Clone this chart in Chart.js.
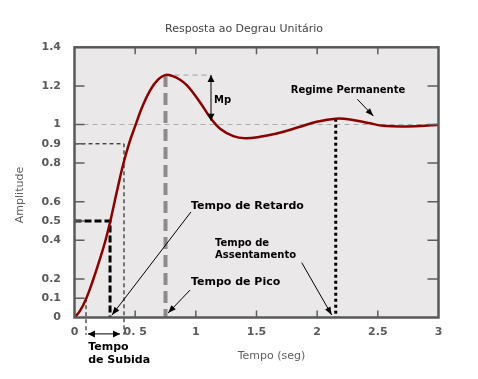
<!DOCTYPE html>
<html><head><meta charset="utf-8">
<script src="https://cdn.jsdelivr.net/npm/chart.js@4.4.0/dist/chart.umd.min.js"></script>
<style>html,body{margin:0;padding:0;background:#fff;}canvas{display:block;}</style>
</head><body>
<canvas id="c" width="478" height="379"></canvas>
<script>
// ---- data ----
const timeSec = [0, 0.045, 0.095, 0.150, 0.202, 0.251, 0.292, 0.350, 0.402, 0.449, 0.499, 0.556, 0.622, 0.688, 0.746, 0.804, 0.870, 0.925, 0.979, 1.051, 1.117, 1.200, 1.309, 1.405, 1.529, 1.667, 1.858, 1.996, 2.153, 2.271, 2.436, 2.545, 2.738, 2.985, 3.0];
const amplitude = [0, 0.034, 0.096, 0.189, 0.288, 0.390, 0.491, 0.655, 0.795, 0.900, 0.990, 1.088, 1.176, 1.232, 1.256, 1.252, 1.232, 1.204, 1.163, 1.100, 1.037, 0.978, 0.940, 0.929, 0.936, 0.953, 0.988, 1.014, 1.030, 1.026, 1.006, 0.993, 0.990, 0.997, 0.997];
const xTickValues = [0, 0.5, 1, 1.5, 2, 2.5, 3];
const xTickLabels = ['0', '0. 5', '1', '1.5', '2', '2.5', '3'];
const yTickValues = [0, 0.1, 0.2, 0.4, 0.5, 0.6, 0.8, 0.9, 1, 1.2, 1.4];
const yTickLabels = ['0', '0.1', '0.2', '0.4', '0.5', '0.6', '0.8', '0.9', '1', '1.2', '1.4'];
const rightTickValues = [0.2, 0.4, 0.6, 0.8, 1, 1.2];
const peakTime = 0.75, peakValue = 1.256;
const riseLow = 0.095, riseHalf = 0.293, riseHigh = 0.408;
const settleTime = 2.153, settleValue = 1.030;

// ---- annotation layout (data units) ----
const texts = [
  {t: 'Mp', x: 1.15, y: 1.127, size: 10},
  {t: 'Tempo de Retardo', x: 0.960, y: 0.575, size: 11},
  {t: 'Tempo de Pico', x: 0.960, y: 0.183, size: 11},
  {t: 'Tempo de', x: 1.158, y: 0.384, size: 10},
  {t: 'Assentamento', x: 1.158, y: 0.320, size: 10},
  {t: 'Regime Permanente', x: 1.782, y: 1.175, size: 10},
  {t: 'Tempo', x: 0.113, y: -0.151, size: 11},
  {t: 'de Subida', x: 0.113, y: -0.220, size: 11}
];
const arrows = [
  {x1: 0.960, y1: 0.547, x2: 0.309, y2: 0.013},
  {x1: 0.952, y1: 0.142, x2: 0.771, y2: 0.023},
  {x1: 1.873, y1: 0.284, x2: 2.120, y2: 0.013},
  {x1: 2.331, y1: 1.131, x2: 2.463, y2: 1.044}
];

function arrowHead(ctx, x1, y1, x2, y2, len, half) {
  const a = Math.atan2(y2 - y1, x2 - x1);
  ctx.beginPath();
  ctx.moveTo(x2, y2);
  ctx.lineTo(x2 - len * Math.cos(a) + half * Math.sin(a), y2 - len * Math.sin(a) - half * Math.cos(a));
  ctx.lineTo(x2 - len * Math.cos(a) - half * Math.sin(a), y2 - len * Math.sin(a) + half * Math.cos(a));
  ctx.closePath();
  ctx.fill();
}
function seg(ctx, X, Y, pts, w, color, dash) {
  ctx.save();
  ctx.lineWidth = w; ctx.strokeStyle = color; ctx.setLineDash(dash || []);
  ctx.beginPath();
  pts.forEach((p, i) => { const px = X(p[0]), py = Y(p[1]); i ? ctx.lineTo(px, py) : ctx.moveTo(px, py); });
  ctx.stroke();
  ctx.restore();
}

const decor = {
  id: 'decor',
  beforeDatasetsDraw(chart) {
    const {ctx, chartArea: a, scales: {x, y}} = chart;
    const X = v => x.getPixelForValue(v), Y = v => y.getPixelForValue(v);
    ctx.save();
    ctx.fillStyle = '#ebe8e9';
    ctx.fillRect(a.left, a.top, a.right - a.left, a.bottom - a.top);
    ctx.restore();
    seg(ctx, X, Y, [[0, 1], [3, 1]], 1, '#acacac', [5, 4]);
    seg(ctx, X, Y, [[peakTime, peakValue], [1.125, peakValue]], 1, '#a0a0a0', [5, 4]);
    seg(ctx, X, Y, [[peakTime, peakValue], [peakTime, 0]], 4, '#8c8c8c', [12, 6]);
    seg(ctx, X, Y, [[0, 0.9], [riseHigh, 0.9], [riseHigh, -0.09]], 1, '#000', [4, 3]);
    seg(ctx, X, Y, [[riseLow, 0.1], [riseLow, -0.09]], 1, '#000', [4, 3]);
    seg(ctx, X, Y, [[0, 0.5], [riseHalf, 0.5], [riseHalf, 0]], 3, '#000', [7, 3]);
    seg(ctx, X, Y, [[settleTime, settleValue], [settleTime, 0]], 3, '#000', [3, 3]);
  },
  afterDatasetsDraw(chart) {
    const {ctx, chartArea: a, scales: {x, y}} = chart;
    const X = v => x.getPixelForValue(v), Y = v => y.getPixelForValue(v);
    ctx.save();
    // inward tick marks
    ctx.strokeStyle = '#5e5e5e'; ctx.lineWidth = 1.5;
    ctx.beginPath();
    yTickValues.filter(v => v > 0 && v < 1.4).forEach(v => { ctx.moveTo(a.left, Y(v)); ctx.lineTo(a.left + 10, Y(v)); });
    rightTickValues.forEach(v => { ctx.moveTo(a.right, Y(v)); ctx.lineTo(a.right - 11, Y(v)); });
    xTickValues.filter(v => v > 0 && v < 3).forEach(v => {
      ctx.moveTo(X(v), a.bottom); ctx.lineTo(X(v), a.bottom - 7);
      ctx.moveTo(X(v), a.top); ctx.lineTo(X(v), a.top + 7);
    });
    ctx.stroke();
    // frame
    ctx.lineWidth = 2.5; ctx.strokeStyle = '#595959';
    ctx.strokeRect(a.left, a.top, a.right - a.left, a.bottom - a.top);
    // arrows
    ctx.strokeStyle = '#000'; ctx.fillStyle = '#000'; ctx.lineWidth = 1;
    arrows.forEach(r => {
      const x1 = X(r.x1), y1 = Y(r.y1), x2 = X(r.x2), y2 = Y(r.y2);
      ctx.beginPath(); ctx.moveTo(x1, y1); ctx.lineTo(x2, y2); ctx.stroke();
      arrowHead(ctx, x1, y1, x2, y2, 8, 3);
    });
    // double arrows (Mp, rise time)
    [[1.125, peakValue, 1.125, 1.02], [0.111, -0.085, 0.375, -0.085]].forEach(d => {
      const x1 = X(d[0]), y1 = Y(d[1]), x2 = X(d[2]), y2 = Y(d[3]);
      ctx.beginPath(); ctx.moveTo(x1, y1); ctx.lineTo(x2, y2); ctx.stroke();
      arrowHead(ctx, x1, y1, x2, y2, 7, 3.5);
      arrowHead(ctx, x2, y2, x1, y1, 7, 3.5);
    });
    // labels
    ctx.textBaseline = 'middle'; ctx.textAlign = 'left'; ctx.fillStyle = '#000';
    texts.forEach(t => {
      ctx.font = 'bold ' + t.size + 'px "DejaVu Sans"';
      ctx.fillText(t.t, X(t.x), Y(t.y));
    });
    // axis titles
    ctx.fillStyle = '#5f5f5f'; ctx.font = '11px "DejaVu Sans"'; ctx.textAlign = 'center';
    ctx.fillText('Tempo (seg)', 271.5, 356);
    ctx.translate(20, 195); ctx.rotate(-Math.PI / 2);
    ctx.fillText('Amplitude', 0, 0);
    ctx.restore();
  }
};

const tickFont = {family: 'DejaVu Sans', size: 11, weight: 'bold'};
new Chart(document.getElementById('c'), {
  type: 'line',
  data: {
    datasets: [{
      data: timeSec.map((t, i) => ({x: t, y: amplitude[i]})),
      borderColor: '#8b0000', borderWidth: 2.5, pointRadius: 0,
      tension: 0.4, fill: false
    }]
  },
  options: {
    responsive: false, animation: false, devicePixelRatio: 1,
    layout: {padding: {left: 10, right: 0, top: 0, bottom: 0}},
    plugins: {
      legend: {display: false}, tooltip: {enabled: false},
      title: {display: true, text: 'Resposta ao Degrau Unitário', color: '#444',
        font: {family: 'DejaVu Sans', size: 11, weight: 'normal'}, padding: {top: 22.4, bottom: 11.7}}
    },
    scales: {
      x: {
        type: 'linear', min: 0, max: 3,
        afterBuildTicks: s => { s.ticks = xTickValues.map(v => ({value: v})); },
        afterFit: s => { s.height = 61.5; },
        grid: {display: false, drawTicks: false}, border: {display: false},
        ticks: {autoSkip: false, maxRotation: 0, padding: 8, color: '#5a5a5a', font: tickFont,
          callback: v => xTickLabels[xTickValues.indexOf(v)]}
      },
      y: {
        type: 'linear', min: 0, max: 1.4,
        afterBuildTicks: s => { s.ticks = yTickValues.map(v => ({value: v})); },
        afterFit: s => { s.width = 64.5; },
        grid: {display: false, drawTicks: false}, border: {display: false},
        ticks: {padding: 13.5, color: '#5a5a5a', font: tickFont,
          callback: v => yTickLabels[yTickValues.indexOf(v)]}
      },
      y2: {
        position: 'right', display: true,
        afterFit: s => { s.width = 39.5; },
        grid: {display: false, drawTicks: false}, border: {display: false},
        ticks: {display: false}
      }
    }
  },
  plugins: [decor]
});
</script>
</body></html>
